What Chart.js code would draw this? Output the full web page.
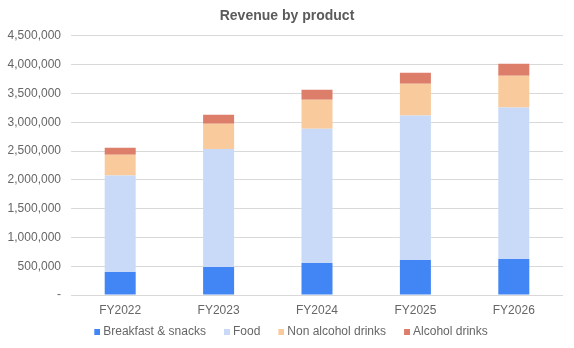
<!DOCTYPE html>
<html>
<head>
<meta charset="utf-8">
<script src="https://cdn.jsdelivr.net/npm/chart.js@4"></script>
<style>
  html, body { margin: 0; padding: 0; background: #fff; }
  #wrap { width: 574px; height: 348px; }
</style>
</head>
<body>
<div id="wrap"><canvas id="chart" width="574" height="348"></canvas></div>
<script>
// data
const years = ['FY2022', 'FY2023', 'FY2024', 'FY2025', 'FY2026'];
const breakfast = [400000, 487000, 556000, 608000, 626000];
const food = [1674000, 2046000, 2330000, 2509000, 2631000];
const nonAlcohol = [360000, 440000, 504000, 551000, 550000];
const alcohol = [122000, 156000, 174000, 191000, 209000];
const yTicks = [0, 500000, 1000000, 1500000, 2000000, 2500000, 3000000, 3500000, 4000000, 4500000];

const colors = ['#4285f4', '#c9daf8', '#f9cb9c', '#dd7e6b'];
const font = "'Liberation Sans', Arial, sans-serif";
const grey = '#666666';

// small square legend markers, placed just left of the label text
function marker(color) {
    const c = document.createElement('canvas');
    c.width = 17;
    c.height = 6;
    const ctx = c.getContext('2d');
    ctx.fillStyle = color;
    ctx.fillRect(11, 0, 6, 6);
    return c;
}
const markers = colors.map(marker);

function series(label, data, color) {
    return { label, data, backgroundColor: color, barPercentage: 0.315, categoryPercentage: 1 };
}

new Chart(document.getElementById('chart'), {
    type: 'bar',
    data: {
        labels: years,
        datasets: [
            series('Breakfast & snacks', breakfast, colors[0]),
            series('Food', food, colors[1]),
            series('Non alcohol drinks', nonAlcohol, colors[2]),
            series('Alcohol drinks', alcohol, colors[3])
        ]
    },
    options: {
        responsive: false,
        animation: false,
        layout: { padding: 0 },
        plugins: {
            title: {
                display: true,
                text: 'Revenue by product',
                color: '#5b5b5b',
                font: { family: font, size: 14, weight: 'bold' },
                padding: { top: 8, bottom: 11 }
            },
            legend: {
                position: 'bottom',
                labels: {
                    color: grey,
                    font: { family: font, size: 12 },
                    usePointStyle: true,
                    pointStyleWidth: 11,
                    boxHeight: 6,
                    padding: 10,
                    generateLabels: chart => Chart.defaults.plugins.legend.labels.generateLabels(chart)
                        .map((item, i) => ({ ...item, pointStyle: markers[i] }))
                }
            },
            tooltip: { enabled: false }
        },
        scales: {
            x: {
                stacked: true,
                afterFit: s => { s.height = 21; },
                grid: { display: false, drawTicks: false },
                border: { display: false },
                ticks: { color: grey, font: { family: font, size: 12 }, padding: 8 }
            },
            y: {
                stacked: true,
                min: 0,
                max: 4500000,
                afterBuildTicks: s => { s.ticks = yTicks.map(v => ({ value: v })); },
                afterFit: s => { s.width = 71; },
                grid: { color: '#d9d9d9', drawTicks: false, lineWidth: 1 },
                border: { display: false },
                ticks: {
                    color: grey,
                    font: { family: font, size: 12 },
                    padding: 10,
                    callback: v => v === 0 ? '-' : v.toLocaleString('en-US')
                }
            },
            // empty right axis, only keeps the right margin of the plot
            yRight: {
                position: 'right',
                display: true,
                grid: { display: false, drawTicks: false },
                border: { display: false },
                ticks: { display: false },
                afterFit: s => { s.width = 11; }
            }
        }
    }
});
</script>
</body>
</html>
